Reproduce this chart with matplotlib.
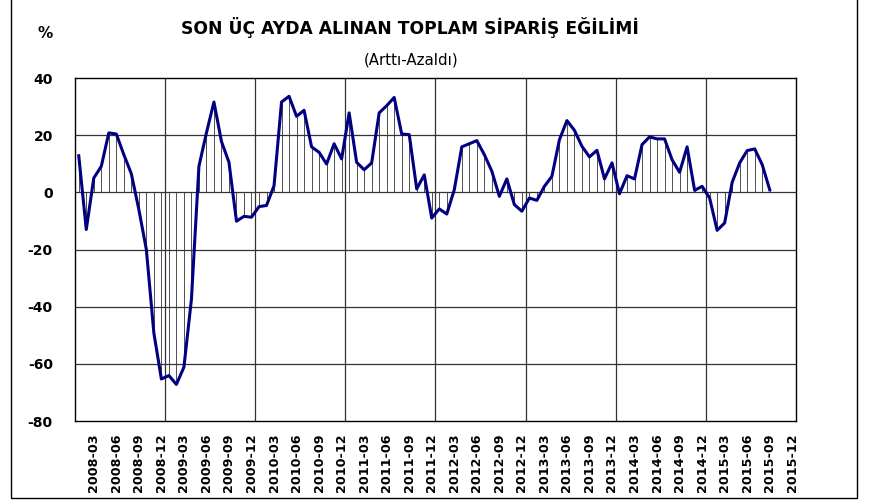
import matplotlib

matplotlib.use("Agg")
import matplotlib.pyplot as plt
from matplotlib.patches import Rectangle

# Monthly balance (%), 2008-01 .. 2015-09
values = [
    12.8, -13.0, 5.0, 9.1, 20.8, 20.4, 13.2, 6.5, -6.0, -20.0, -49.2, -65.3,
    -64.1, -67.2, -61.2, -37.5, 9.1, 20.8, 31.6, 17.8, 10.5, -10.1, -8.4, -8.7,
    -5.0, -4.6, 2.3, 31.6, 33.6, 26.6, 28.7, 15.9, 14.0, 9.9, 17.0, 11.7,
    27.8, 10.5, 7.9, 10.3, 27.8, 30.3, 33.2, 20.4, 20.2, 1.2, 6.1, -9.0,
    -5.8, -7.6, 0.9, 15.9, 17.0, 18.1, 13.2, 7.4, -1.4, 4.7, -4.3, -6.6,
    -2.0, -2.8, 2.1, 5.6, 18.4, 25.1, 21.7, 16.1, 12.4, 14.7, 4.7, 10.3,
    -0.5, 5.8, 4.7, 16.7, 19.4, 18.7, 18.7, 11.4, 7.0, 15.9, 0.7, 2.1,
    -2.0, -13.3, -10.7, 3.5, 10.3, 14.6, 15.2, 9.7, 0.9,
]

n_months = 96  # category axis runs 2008-01 .. 2015-12
tick_labels = [
    "2008-03", "2008-06", "2008-09", "2008-12",
    "2009-03", "2009-06", "2009-09", "2009-12",
    "2010-03", "2010-06", "2010-09", "2010-12",
    "2011-03", "2011-06", "2011-09", "2011-12",
    "2012-03", "2012-06", "2012-09", "2012-12",
    "2013-03", "2013-06", "2013-09", "2013-12",
    "2014-03", "2014-06", "2014-09", "2014-12",
    "2015-03", "2015-06", "2015-09", "2015-12",
]
y_ticks = [-80, -60, -40, -20, 0, 20, 40]

title = "SON ÜÇ AYDA ALINAN TOPLAM SİPARİŞ EĞİLİMİ"
subtitle = "(Arttı-Azaldı)"

plt.rcParams["font.family"] = ["DejaVu Sans"]

fig = plt.figure(figsize=(8.78, 5.04), dpi=100)
ax = fig.add_axes([75 / 878, 1 - 421 / 504, 721 / 878, 343 / 504])

x = list(range(len(values)))

# drop lines from each point to zero
ax.vlines(x, 0, values, color="#333333", linewidth=0.6, zorder=2)
ax.plot(x, values, color="#000080", linewidth=2.2, zorder=3)

ax.set_xlim(-0.5, n_months - 0.5)
ax.set_ylim(-80, 40)

# grid
for yv in y_ticks[1:-1]:
    ax.axhline(yv, color="#333333", linewidth=0.9, zorder=1)
for k in range(1, n_months // 12):
    ax.axvline(12 * k - 0.5, color="#333333", linewidth=0.9, zorder=1)

ax.set_yticks(y_ticks)
ax.set_yticklabels([str(v) for v in y_ticks], fontsize=10, fontweight="bold")
ax.set_xticks(list(range(2, n_months, 3)))
ax.set_xticklabels(tick_labels, rotation=90, fontsize=9.2, fontweight="bold")
ax.tick_params(axis="y", length=0, pad=16)
ax.tick_params(axis="x", length=0, pad=9)

for sp in ax.spines.values():
    sp.set_color("black")
    sp.set_linewidth(1.0)

fig.text(410 / 878, 1 - 28 / 504, title, ha="center", va="center",
         fontsize=12.3, fontweight="bold")
fig.text(411 / 878, 1 - 60 / 504, subtitle, ha="center", va="center", fontsize=10.8)
fig.text(45 / 878, 1 - 34 / 504, "%", ha="center", va="center",
         fontsize=11, fontweight="bold")

# outer frame around the chart
fig.patches.append(Rectangle((11 / 878, 1 - 498 / 504), 846 / 878, 510 / 504,
                             transform=fig.transFigure, fill=False,
                             edgecolor="black", linewidth=1.0))

fig.savefig("out.png", dpi=100)
